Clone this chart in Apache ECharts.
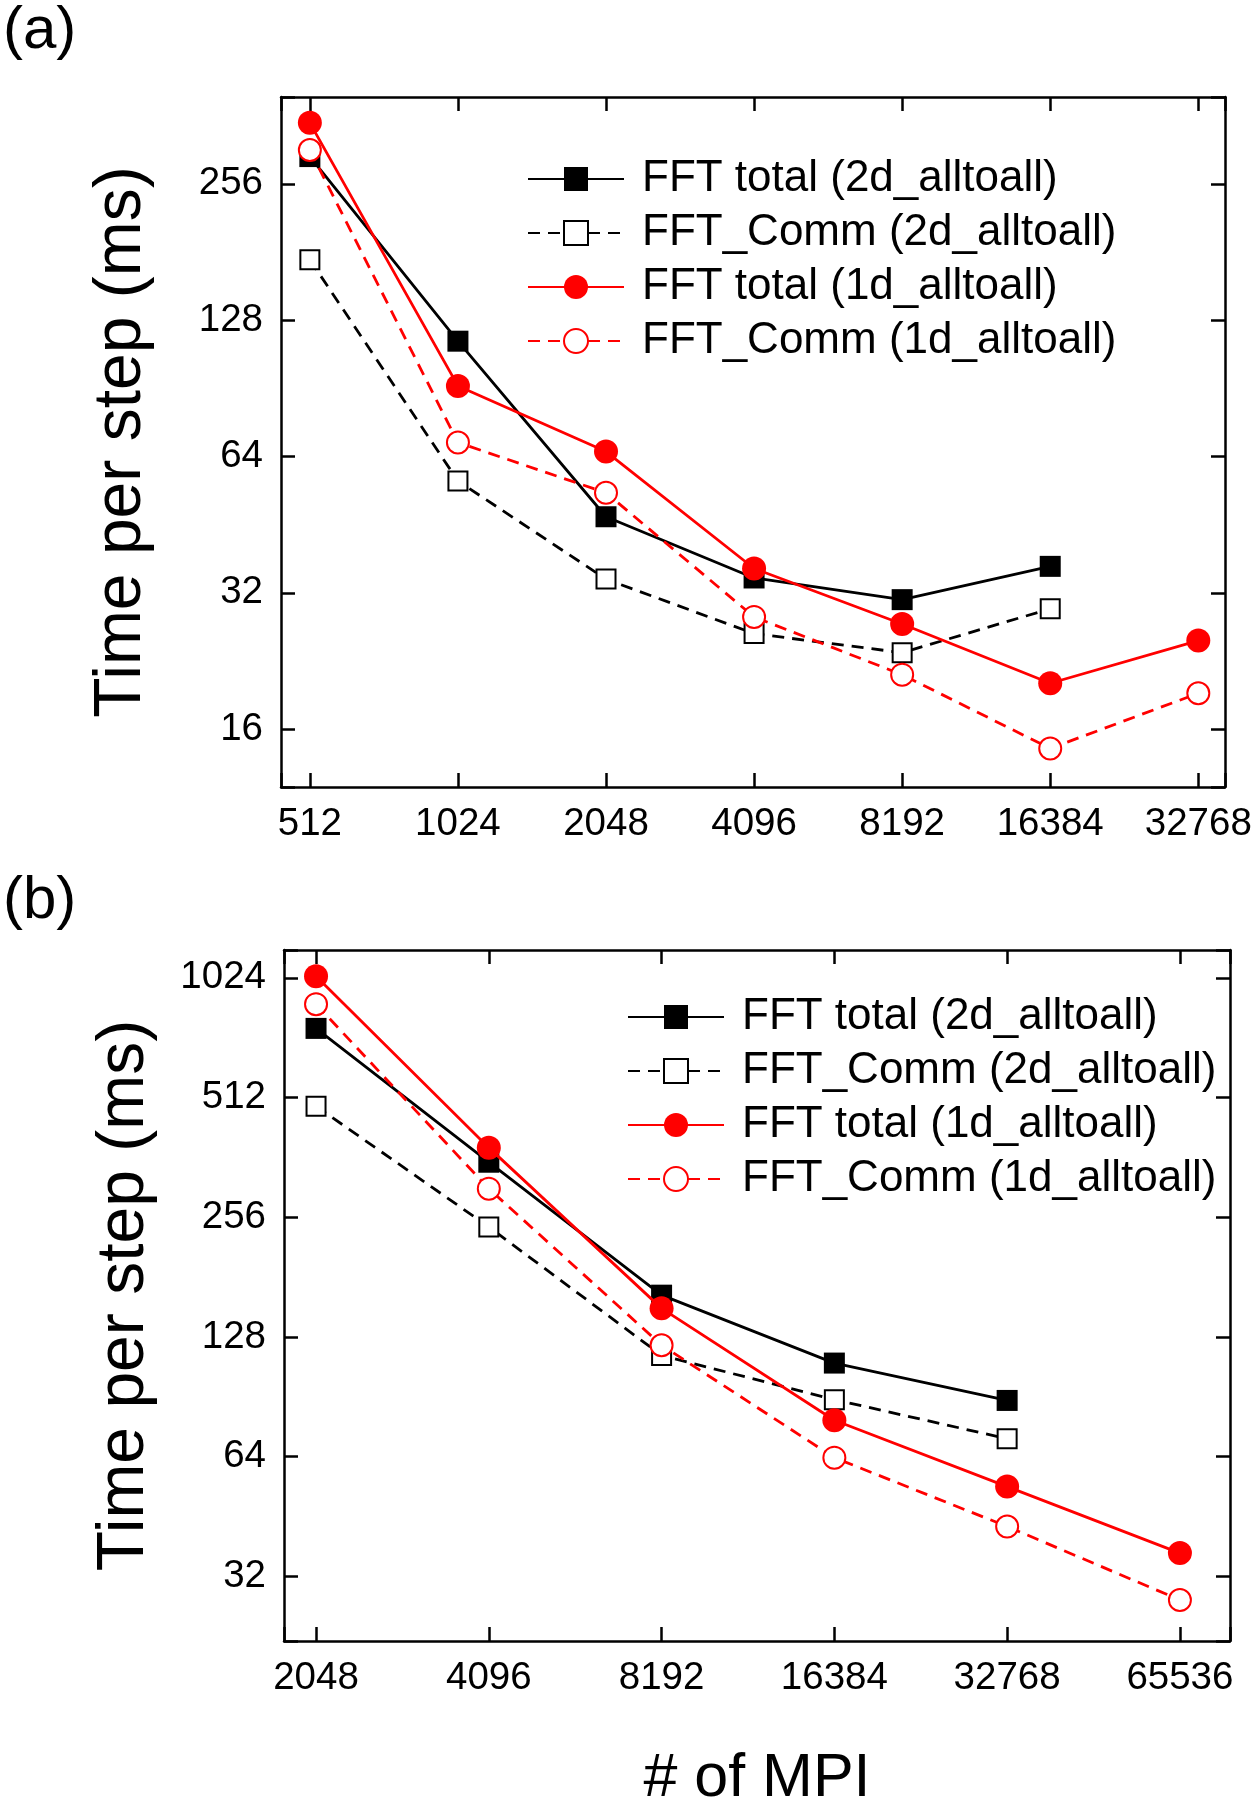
<!DOCTYPE html>
<html>
<head>
<meta charset="utf-8">
<script src="https://cdn.jsdelivr.net/npm/echarts@6/dist/echarts.min.js"></script>
<style>
  html, body { margin: 0; padding: 0; background: #fff; }
  #chart { width: 1254px; height: 1800px; }
</style>
</head>
<body>
<div id="chart"></div>
<script>
// panel (a)
var mpiA = [512, 1024, 2048, 4096, 8192, 16384, 32768];
var totalA2d = [294, 115, 47.1, 34.5, 30.9, 36.6];
var commA2d = [174, 56.5, 34.3, 26.0, 23.6, 29.5];
var totalA1d = [349, 91.6, 65.6, 36.2, 27.3, 20.2, 25.1];
var commA1d = [304, 68.7, 53.2, 28.3, 21.1, 14.5, 19.2];
var yTicksA = [16, 32, 64, 128, 256];

// panel (b)
var mpiB = [2048, 4096, 8192, 16384, 32768, 65536];
var totalB2d = [764, 352, 163, 110, 88.6];
var commB2d = [487, 242, 115, 89, 71];
var totalB1d = [1034, 383, 151, 79, 53.8, 36.6];
var commB1d = [879, 302, 122, 63.6, 42.7, 27.9];
var yTicksB = [32, 64, 128, 256, 512, 1024];

var names = ['FFT total (2d_alltoall)', 'FFT_Comm (2d_alltoall)', 'FFT total (1d_alltoall)', 'FFT_Comm (1d_alltoall)'];

var FONT = '"Liberation Sans", Arial, sans-serif';
var RED = '#ff0000';

function pairs(xs, ys) {
  return ys.map(function (v, i) { return [xs[i], v]; });
}

// kind: 0 black solid, 1 black dashed open, 2 red solid, 3 red dashed open
function line(kind, xs, ys, xi, yi) {
  var s = {
    type: 'line',
    name: names[kind],
    xAxisIndex: xi,
    yAxisIndex: yi,
    data: pairs(xs, ys),
    animation: false,
    z: 2 + kind
  };
  if (kind === 0) {
    s.symbol = 'rect'; s.symbolSize = 21;
    s.lineStyle = { color: '#000', width: 2.8 };
    s.itemStyle = { color: '#000' };
  } else if (kind === 1) {
    s.symbol = 'rect'; s.symbolSize = 19;
    s.lineStyle = { color: '#000', width: 2.8, type: [12, 8] };
    s.itemStyle = { color: '#fff', borderColor: '#000', borderWidth: 2 };
  } else if (kind === 2) {
    s.symbol = 'circle'; s.symbolSize = 24;
    s.lineStyle = { color: RED, width: 2.8 };
    s.itemStyle = { color: RED };
  } else {
    s.symbol = 'circle'; s.symbolSize = 22;
    s.lineStyle = { color: RED, width: 2.8, type: [12, 8] };
    s.itemStyle = { color: '#fff', borderColor: RED, borderWidth: 2 };
  }
  return s;
}

function tickFmt(list) {
  return function (v) {
    var r = Math.round(v);
    return list.indexOf(r) >= 0 ? String(r) : '';
  };
}

function axis(grid, min, max, pos, labels) {
  return {
    gridIndex: grid, type: 'log', logBase: 2, min: min, max: max, position: pos,
    axisLine: { show: true, lineStyle: { color: '#000', width: 2.5 } },
    axisTick: { show: true, inside: true, length: 14, lineStyle: { color: '#000', width: 2.5 } },
    axisLabel: { show: !!labels, fontSize: 38.5, fontFamily: FONT, color: '#000', margin: 18,
      formatter: tickFmt(labels || []) },
    splitLine: { show: false }
  };
}

var xA = axis(0, 447.3, 37130, 'bottom', mpiA);
var xB = axis(1, 1801, 80120, 'bottom', mpiB);
xB.name = '# of MPI';
xB.nameLocation = 'middle';
xB.nameGap = 108;
xB.nameTextStyle = { fontSize: 61, fontFamily: FONT, color: '#000' };

var yA = axis(0, 11.92, 398, 'left', yTicksA);
var yB = axis(1, 22.0, 1203, 'left', yTicksB);
[yA, yB].forEach(function (a) {
  a.name = 'Time per step (ms)';
  a.nameLocation = 'middle';
  a.nameGap = 126;
  a.nameTextStyle = { fontSize: 66, fontFamily: FONT, color: '#000' };
});

function legendAt(left, top) {
  return {
    data: names, orient: 'vertical', left: left, top: top,
    itemWidth: 96, itemHeight: 30, itemGap: 10,
    selectedMode: false,
    textStyle: { fontSize: 44, lineHeight: 44, fontFamily: FONT, color: '#000', padding: [0, 0, 0, 13] }
  };
}

var chart = echarts.init(document.getElementById('chart'));
chart.setOption({
  backgroundColor: '#fff',
  animation: false,
  grid: [
    { left: 281, top: 97, width: 944, height: 690, outerBoundsMode: 'none' },
    { left: 284, top: 950, width: 946, height: 691, outerBoundsMode: 'none' }
  ],
  xAxis: [xA, axis(0, 447.3, 37130, 'top'), xB, axis(1, 1801, 80120, 'top')],
  yAxis: [yA, axis(0, 11.92, 398, 'right'), yB, axis(1, 22.0, 1203, 'right')],
  legend: [legendAt(522, 152), legendAt(622, 990)],
  graphic: [
    { type: 'text', left: 3, top: 1, style: { text: '(a)', font: '60px ' + FONT, fill: '#000' } },
    { type: 'text', left: 3, top: 871, style: { text: '(b)', font: '60px ' + FONT, fill: '#000' } }
  ],
  series: [
    line(0, mpiA, totalA2d, 0, 0),
    line(1, mpiA, commA2d, 0, 0),
    line(2, mpiA, totalA1d, 0, 0),
    line(3, mpiA, commA1d, 0, 0),
    line(0, mpiB, totalB2d, 2, 2),
    line(1, mpiB, commB2d, 2, 2),
    line(2, mpiB, totalB1d, 2, 2),
    line(3, mpiB, commB1d, 2, 2)
  ]
});
</script>
</body>
</html>
